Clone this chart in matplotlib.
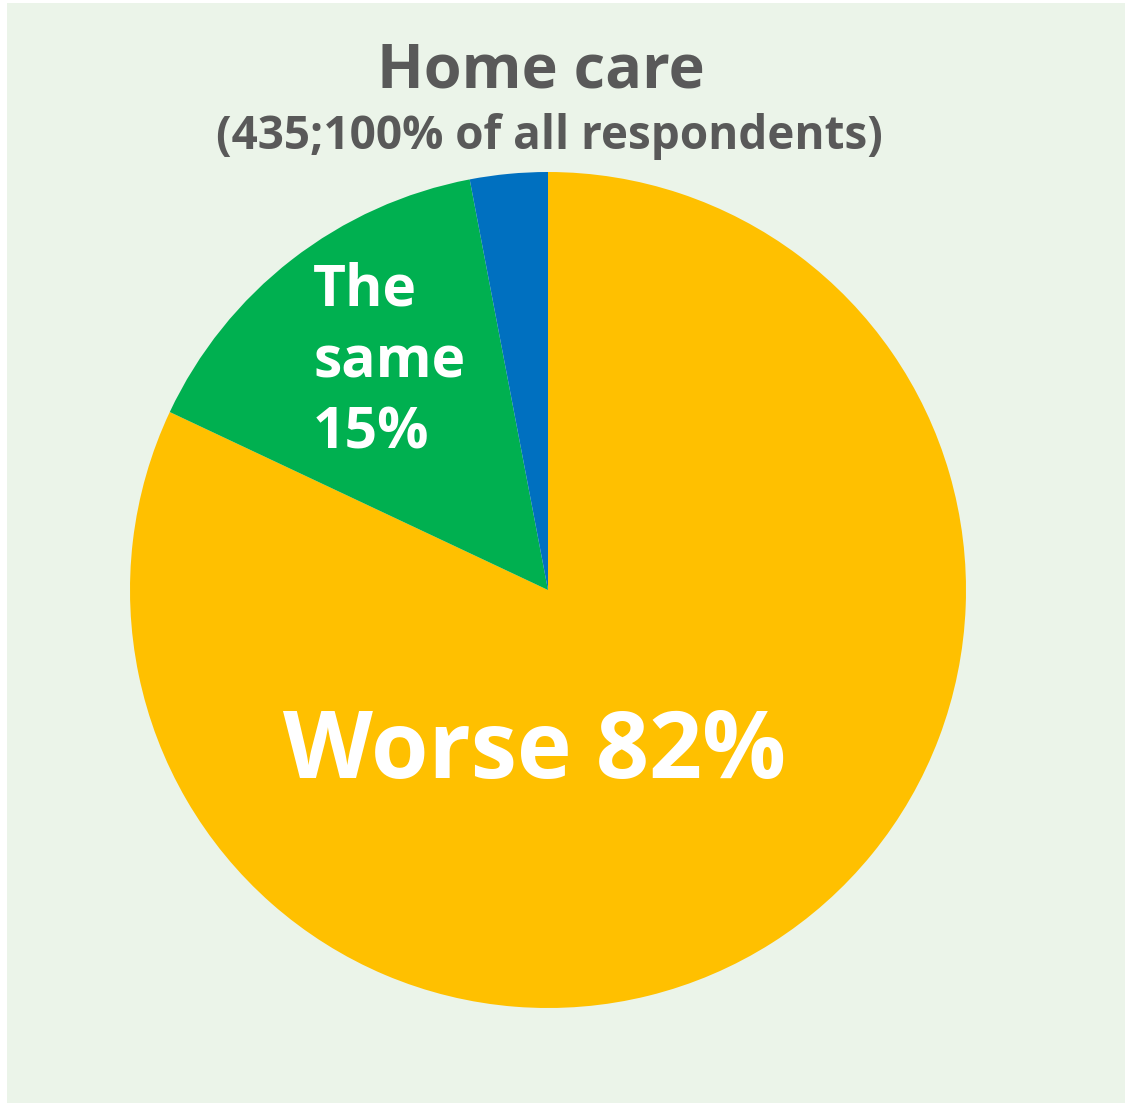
import matplotlib.pyplot as plt
from matplotlib.patches import Rectangle

# answers for home care, drawn clockwise from 12 o'clock
categories = ["Worse", "The same", "Better"]
shares = [82, 15, 3]
colors = ["#FFC000", "#00B050", "#0070C0"]

title = "Home care"
subtitle = "(435;100% of all respondents)"

W, H = 1125, 1103
fig = plt.figure(figsize=(W / 100, H / 100), dpi=100)
fig.patch.set_facecolor("white")

# light green panel behind everything
fig.add_artist(Rectangle((7 / W, 0), 1, 1 - 3 / H, transform=fig.transFigure,
                         facecolor="#EBF4E9", edgecolor="none", zorder=0))

font = ["Open Sans", "DejaVu Sans"]

fig.text(541 / W, 1 - 87 / H, title, ha="center", va="baseline",
         fontsize=44, fontweight="bold", color="#595959", family=font)
fig.text(549 / W, 1 - 149 / H, subtitle, ha="center", va="baseline",
         fontsize=33, fontweight="bold", color="#595959", family=font)

cx, cy, r = 548, 590, 418
ax = fig.add_axes([(cx - r) / W, 1 - (cy + r) / H, 2 * r / W, 2 * r / H])
ax.pie(shares, colors=colors, startangle=90, counterclock=False, radius=1,
       wedgeprops=dict(linewidth=0))
ax.set_xlim(-1, 1)
ax.set_ylim(-1, 1)
ax.axis("off")

ax.text(-0.033, -0.39, f"{categories[0]} {shares[0]}%", ha="center", va="center",
        fontsize=67, fontweight="bold", color="white", family=font)
ax.text(-0.562, 0.545, "The\nsame\n" + f"{shares[1]}%", ha="left", va="center",
        fontsize=41, fontweight="bold", color="white", family=font,
        linespacing=1.3)

fig.savefig("out.png", dpi=100, facecolor=fig.get_facecolor())
